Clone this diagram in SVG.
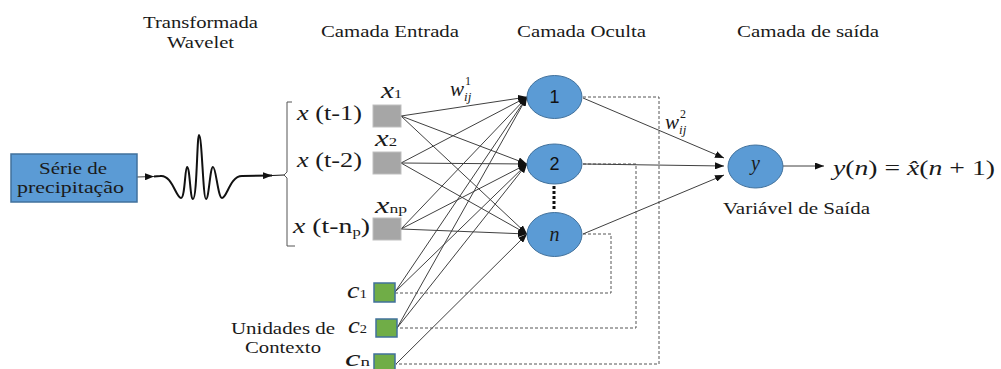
<svg xmlns="http://www.w3.org/2000/svg" width="1001" height="369" viewBox="0 0 1001 369">
  <defs>
    <style>
      .t { font-family: "Liberation Serif", "Times New Roman", serif; fill: #1a1a1a; }
      .lbl { font-size: 16px; }
      .xv { font-size: 20px; }
      .big { font-size: 24px; }
      .num { font-family: "Liberation Sans", Arial, sans-serif; font-size: 18px; fill: #111; }
      .it { font-style: italic; }
      .wire { stroke: #404040; stroke-width: 1; fill: none; }
      .dash { stroke: #555; stroke-width: 1; fill: none; stroke-dasharray: 3 2; }
      .hid { fill: #5b9bd5; stroke: #41719c; stroke-width: 1; }
      .inp { fill: #a6a6a6; stroke: #bfbfbf; stroke-width: 1; }
      .ctx { fill: #70ad47; stroke: #41719c; stroke-width: 1.5; }
    </style>
    <marker id="ah" markerUnits="userSpaceOnUse" markerWidth="9" markerHeight="7" refX="9" refY="3.5" orient="auto">
      <path d="M0,0 L9,3.5 L0,7 z" fill="#111"/>
    </marker>
  </defs>

  <!-- column titles -->
  <g id="titles">
    <text class="t lbl" x="143" y="28" textLength="115" lengthAdjust="spacingAndGlyphs">Transformada</text>
    <text class="t lbl" x="167" y="48" textLength="67" lengthAdjust="spacingAndGlyphs">Wavelet</text>
    <text class="t lbl" x="321" y="37" textLength="138" lengthAdjust="spacingAndGlyphs">Camada Entrada</text>
    <text class="t lbl" x="517" y="37" textLength="129" lengthAdjust="spacingAndGlyphs">Camada Oculta</text>
    <text class="t lbl" x="737" y="37" textLength="142" lengthAdjust="spacingAndGlyphs">Camada de saída</text>
  </g>

  <!-- connectors -->
  <g id="connectors">
    <!-- series to wavelet to delays -->
    <path class="wire" d="M137,177 L154,176.5" stroke="#111" stroke-width="1.5" marker-end="url(#ah)"/>
    <path d="M154,176.5 L160,176 C172,174 176,198 181,198 C185,198 185,167 187,167 C190,167 190,199 193,199 C197,199 197,135 199,135 C202,135 203,199 206,199 C209,199 210,167 213,167 C216,167 218,198 222,198 C227,198 230,176 242,176 L272,175.5" fill="none" stroke="#111" stroke-width="2" marker-end="url(#ah)"/>
    <path d="M272,175.5 L284,175" fill="none" stroke="#111" stroke-width="1.2"/>
    <!-- brace -->
    <path d="M292,102 H287 V172 L284,175 L287,178 V246 H295" fill="none" stroke="#555" stroke-width="1"/>

    <!-- input units to hidden layer -->
    <path class="wire" d="M401,116 L527,97" marker-end="url(#ah)"/>
    <path class="wire" d="M401,116 L527,164" marker-end="url(#ah)"/>
    <path class="wire" d="M401,116 L527,234" marker-end="url(#ah)"/>
    <path class="wire" d="M401,163 L527,97" marker-end="url(#ah)"/>
    <path class="wire" d="M401,163 L527,164" marker-end="url(#ah)"/>
    <path class="wire" d="M401,163 L527,234" marker-end="url(#ah)"/>
    <path class="wire" d="M401,229 L527,97" marker-end="url(#ah)"/>
    <path class="wire" d="M401,229 L527,164" marker-end="url(#ah)"/>
    <path class="wire" d="M401,229 L527,234" marker-end="url(#ah)"/>

    <!-- context units to hidden layer -->
    <path class="wire" d="M395,292 L527,97" marker-end="url(#ah)"/>
    <path class="wire" d="M395,292 L527,164" marker-end="url(#ah)"/>
    <path class="wire" d="M397,328 L527,97" marker-end="url(#ah)"/>
    <path class="wire" d="M397,328 L527,164" marker-end="url(#ah)"/>
    <path class="wire" d="M396,364 L527,234" marker-end="url(#ah)"/>

    <!-- recurrent copies back to context units -->
    <path class="dash" d="M583,234 H611 V293 H395"/>
    <path class="dash" d="M583,164 H636 V328 H397"/>
    <path class="dash" d="M583,97 H659 V364 H396"/>

    <!-- hidden ellipsis -->
    <path d="M554,186 V211" stroke="#111" stroke-width="3" stroke-dasharray="3 2"/>

    <!-- hidden to output -->
    <path class="wire" d="M583,98 L724,158" marker-end="url(#ah)"/>
    <path class="wire" d="M583,164 L724,166" marker-end="url(#ah)"/>
    <path class="wire" d="M583,234 L724,175" marker-end="url(#ah)"/>

    <!-- output arrow -->
    <path class="wire" d="M783,166 L824,166" stroke="#111" marker-end="url(#ah)"/>

    <!-- weight labels -->
    <text class="t" x="450" y="96"><tspan class="it" font-size="21">w</tspan><tspan font-size="12" dx="1" dy="-11">1</tspan><tspan class="it" font-size="13" dx="-7" dy="16">ij</tspan></text>
    <text class="t" x="665" y="129"><tspan class="it" font-size="21">w</tspan><tspan font-size="12" dx="1" dy="-11">2</tspan><tspan class="it" font-size="13" dx="-7" dy="16">ij</tspan></text>
  </g>

  <!-- source series -->
  <g id="serie">
    <rect x="11" y="154" width="126" height="48" fill="#5b9bd5" stroke="#41719c" stroke-width="1.5"/>
    <text class="t" font-size="17" x="39" y="174" textLength="68" lengthAdjust="spacingAndGlyphs">Série de</text>
    <text class="t" font-size="17" x="17" y="193" textLength="107" lengthAdjust="spacingAndGlyphs">precipitação</text>
  </g>

  <!-- delayed inputs -->
  <g id="delays">
    <text class="t xv" x="297" y="120" textLength="65" lengthAdjust="spacingAndGlyphs"><tspan class="it">x</tspan> (t-1)</text>
    <text class="t xv" x="297" y="167" textLength="65" lengthAdjust="spacingAndGlyphs"><tspan class="it">x</tspan> (t-2)</text>
    <text class="t xv" x="293" y="233" textLength="77" lengthAdjust="spacingAndGlyphs"><tspan class="it">x</tspan> (t-n<tspan font-size="12" dy="3">p</tspan><tspan dy="-3">)</tspan></text>
  </g>

  <!-- input units -->
  <g id="x1">
    <rect class="inp" x="373" y="105" width="28" height="22"/>
    <text class="t" x="381" y="98" textLength="21" lengthAdjust="spacingAndGlyphs"><tspan class="it big">x</tspan><tspan font-size="13">1</tspan></text>
  </g>
  <g id="x2">
    <rect class="inp" x="373" y="152" width="28" height="22"/>
    <text class="t" x="375" y="146" textLength="22" lengthAdjust="spacingAndGlyphs"><tspan class="it big">x</tspan><tspan font-size="13">2</tspan></text>
  </g>
  <g id="xnp">
    <rect class="inp" x="373" y="218" width="28" height="22"/>
    <text class="t" x="375" y="213" textLength="32" lengthAdjust="spacingAndGlyphs"><tspan class="it big">x</tspan><tspan font-size="13">np</tspan></text>
  </g>

  <!-- context units -->
  <g id="c1">
    <rect class="ctx" x="374" y="283" width="21" height="19"/>
    <text class="t" x="347" y="298" textLength="20" lengthAdjust="spacingAndGlyphs"><tspan class="it big">c</tspan><tspan font-size="13">1</tspan></text>
  </g>
  <g id="c2">
    <rect class="ctx" x="376" y="319" width="21" height="18"/>
    <text class="t" x="348" y="333" textLength="19" lengthAdjust="spacingAndGlyphs"><tspan class="it big">c</tspan><tspan font-size="13">2</tspan></text>
  </g>
  <g id="cn">
    <rect class="ctx" x="374" y="354" width="21" height="18"/>
    <text class="t" x="345" y="366" textLength="25" lengthAdjust="spacingAndGlyphs"><tspan class="it big">c</tspan><tspan font-size="13">n</tspan></text>
  </g>
  <g id="context-label">
    <text class="t lbl" x="231" y="334" textLength="104" lengthAdjust="spacingAndGlyphs">Unidades de</text>
    <text class="t lbl" x="245" y="353" textLength="76" lengthAdjust="spacingAndGlyphs">Contexto</text>
  </g>

  <!-- hidden units -->
  <g id="h1">
    <ellipse class="hid" cx="554.5" cy="97" rx="27.5" ry="21.5"/>
    <text class="num" x="554.5" y="103" text-anchor="middle">1</text>
  </g>
  <g id="h2">
    <ellipse class="hid" cx="554.5" cy="164" rx="27.5" ry="20"/>
    <text class="num" x="554.5" y="170" text-anchor="middle">2</text>
  </g>
  <g id="hn">
    <ellipse class="hid" cx="554.5" cy="234.5" rx="27.5" ry="22"/>
    <text class="t it" font-size="20" x="554.5" y="241" text-anchor="middle">n</text>
  </g>

  <!-- output unit -->
  <g id="out">
    <ellipse class="hid" cx="755.5" cy="166.5" rx="27.5" ry="21.5"/>
    <text class="t it" font-size="20" x="755.5" y="170" text-anchor="middle">y</text>
    <text class="t lbl" x="723" y="214" textLength="147" lengthAdjust="spacingAndGlyphs">Variável de Saída</text>
  </g>

  <g id="formula">
    <text class="t" font-size="22" x="833" y="175" textLength="162" lengthAdjust="spacingAndGlyphs"><tspan class="it">y</tspan>(<tspan class="it">n</tspan>) = <tspan class="it">x̂</tspan>(<tspan class="it">n</tspan> + 1)</text>
  </g>
</svg>
